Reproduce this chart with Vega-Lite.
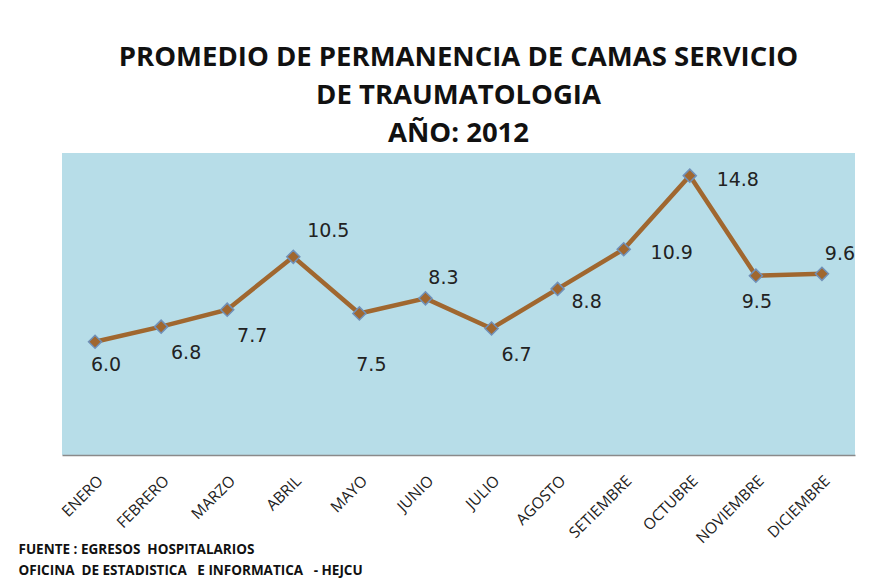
{
  "$schema": "https://vega.github.io/schema/vega-lite/v6.json",
  "width": 793,
  "height": 302,
  "autosize": "none",
  "padding": {"left": 62, "top": 153, "right": 19, "bottom": 125},
  "background": "#ffffff",
  "title": {
    "text": ["PROMEDIO DE PERMANENCIA DE CAMAS SERVICIO", "DE TRAUMATOLOGIA", "AÑO: 2012"],
    "font": "Open Sans",
    "fontSize": 27.5,
    "fontWeight": "bold",
    "color": "#111111",
    "lineHeight": 38,
    "anchor": "middle",
    "offset": 6
  },
  "config": {
    "view": {"fill": "#B7DDE8", "stroke": null},
    "font": "Open Sans"
  },
  "data": {
    "values": [
      {"mes": "ENERO", "valor": 6.0},
      {"mes": "FEBRERO", "valor": 6.8},
      {"mes": "MARZO", "valor": 7.7},
      {"mes": "ABRIL", "valor": 10.5},
      {"mes": "MAYO", "valor": 7.5},
      {"mes": "JUNIO", "valor": 8.3},
      {"mes": "JULIO", "valor": 6.7},
      {"mes": "AGOSTO", "valor": 8.8},
      {"mes": "SETIEMBRE", "valor": 10.9},
      {"mes": "OCTUBRE", "valor": 14.8},
      {"mes": "NOVIEMBRE", "valor": 9.5},
      {"mes": "DICIEMBRE", "valor": 9.6}
    ]
  },
  "encoding": {
    "x": {
      "field": "mes",
      "type": "nominal",
      "sort": null,
      "scale": {"paddingInner": 0, "paddingOuter": 0},
      "axis": {
        "title": ["FUENTE : EGRESOS\u00a0 HOSPITALARIOS", "OFICINA\u00a0 DE ESTADISTICA\u00a0\u00a0 E INFORMATICA\u00a0\u00a0 - HEJCU"],
        "titleFont": "Open Sans",
        "titleFontSize": 13.5,
        "titleFontWeight": "bold",
        "titleColor": "#111111",
        "titleAnchor": "start",
        "titleAlign": "left",
        "titleBaseline": "alphabetic",
        "titleX": -44,
        "titleY": 98,
        "titleLineHeight": 21,
        "labelAngle": -45,
        "labelFontSize": 15.5,
        "labelColor": "#222222",
        "labelPadding": 18,
        "ticks": false,
        "domainColor": "#8a8a8a",
        "domainWidth": 1.5,
        "grid": false
      }
    },
    "y": {
      "field": "valor",
      "type": "quantitative",
      "scale": {"domain": [0, 16], "nice": false},
      "axis": null
    }
  },
  "layer": [
    {
      "mark": {"type": "line", "color": "#A0672F", "strokeWidth": 4.5}
    },
    {
      "mark": {"type": "point", "shape": "diamond", "filled": true, "fill": "#A0672F", "stroke": "#7090B8", "strokeWidth": 1.5, "size": 170, "opacity": 1}
    },
    {
      "transform": [{"filter": {"field": "mes", "oneOf": ["ENERO"]}}],
      "mark": {"type": "text", "dx": 11, "dy": 23, "fontSize": 19, "font": "DejaVu Sans", "color": "#222222"},
      "encoding": {"text": {"field": "valor", "type": "quantitative", "format": ".1f"}}
    },
    {
      "transform": [{"filter": {"field": "mes", "oneOf": ["FEBRERO", "MARZO", "JULIO"]}}],
      "mark": {"type": "text", "dx": 25, "dy": 26, "fontSize": 19, "font": "DejaVu Sans", "color": "#222222"},
      "encoding": {"text": {"field": "valor", "type": "quantitative", "format": ".1f"}}
    },
    {
      "transform": [{"filter": {"field": "mes", "oneOf": ["ABRIL"]}}],
      "mark": {"type": "text", "dx": 35, "dy": -26, "fontSize": 19, "font": "DejaVu Sans", "color": "#222222"},
      "encoding": {"text": {"field": "valor", "type": "quantitative", "format": ".1f"}}
    },
    {
      "transform": [{"filter": {"field": "mes", "oneOf": ["JUNIO", "DICIEMBRE"]}}],
      "mark": {"type": "text", "dx": 18, "dy": -20, "fontSize": 19, "font": "DejaVu Sans", "color": "#222222"},
      "encoding": {"text": {"field": "valor", "type": "quantitative", "format": ".1f"}}
    },
    {
      "transform": [{"filter": {"field": "mes", "oneOf": ["MAYO"]}}],
      "mark": {"type": "text", "dx": 12, "dy": 52, "fontSize": 19, "font": "DejaVu Sans", "color": "#222222"},
      "encoding": {"text": {"field": "valor", "type": "quantitative", "format": ".1f"}}
    },
    {
      "transform": [{"filter": {"field": "mes", "oneOf": ["AGOSTO"]}}],
      "mark": {"type": "text", "dx": 29, "dy": 13, "fontSize": 19, "font": "DejaVu Sans", "color": "#222222"},
      "encoding": {"text": {"field": "valor", "type": "quantitative", "format": ".1f"}}
    },
    {
      "transform": [{"filter": {"field": "mes", "oneOf": ["SETIEMBRE", "OCTUBRE"]}}],
      "mark": {"type": "text", "dx": 48, "dy": 4, "fontSize": 19, "font": "DejaVu Sans", "color": "#222222"},
      "encoding": {"text": {"field": "valor", "type": "quantitative", "format": ".1f"}}
    },
    {
      "transform": [{"filter": {"field": "mes", "oneOf": ["NOVIEMBRE"]}}],
      "mark": {"type": "text", "dx": 1, "dy": 26, "fontSize": 19, "font": "DejaVu Sans", "color": "#222222"},
      "encoding": {"text": {"field": "valor", "type": "quantitative", "format": ".1f"}}
    }
  ]
}
